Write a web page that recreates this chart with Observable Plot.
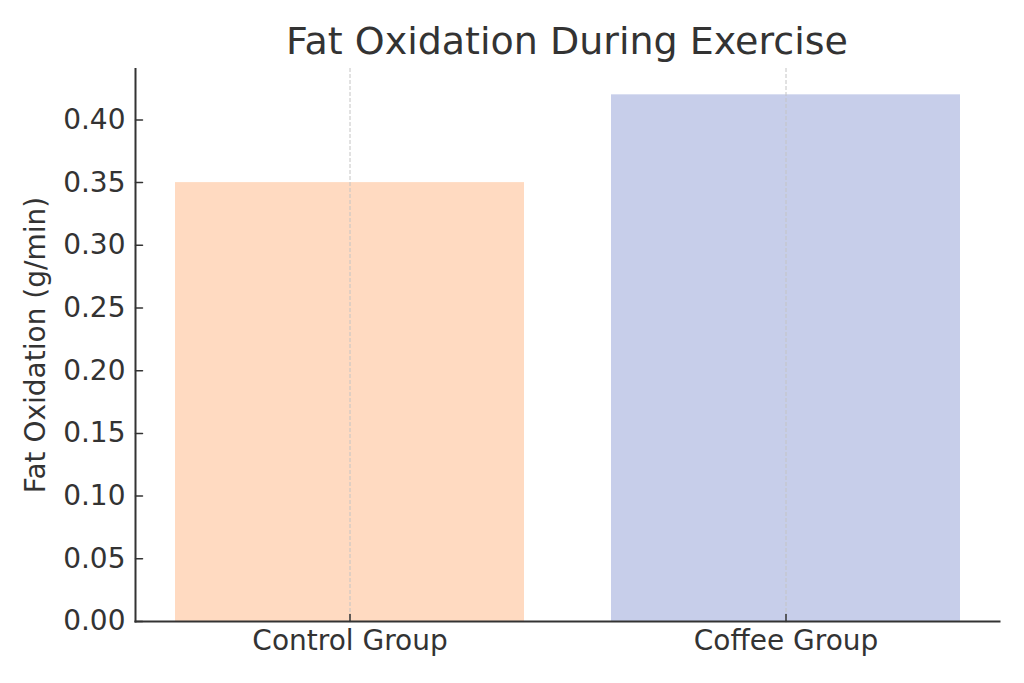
<!DOCTYPE html>
<html>
<head>
<meta charset="utf-8">
<script src="https://cdn.jsdelivr.net/npm/d3@7"></script>
<script src="https://cdn.jsdelivr.net/npm/@observablehq/plot@0.6"></script>
<style>
  body { margin: 0; background: #fff; font-family: "DejaVu Sans", sans-serif; }
  #wrap { width: 1024px; height: 683px; position: relative; }
  #title { position: absolute; left: 135px; width: 864px; top: 22px; text-align: center;
           font-size: 38px; line-height: 38px; color: #333; }
  #chart { position: absolute; left: 0; top: 68px; }
</style>
</head>
<body>
<div id="wrap">
  <div id="title">Fat Oxidation During Exercise</div>
  <div id="chart"></div>
</div>
<script>
const categories = ["Control Group", "Coffee Group"];
const fatOxidation = [0.35, 0.42];
const yTicks = [0, 0.05, 0.10, 0.15, 0.20, 0.25, 0.30, 0.35, 0.40];
const barColors = ["#FFDAC1", "#C7CEEA"];

const data = categories.map((c, i) => ({group: c, value: fatOxidation[i]}));

const lineShape = {draw(context, l) { context.moveTo(0, 0); context.lineTo(0, -l); }};

const plot = Plot.plot({
  width: 1024,
  height: 615,
  marginTop: 0,
  marginBottom: 62,
  marginLeft: 135,
  marginRight: 25,
  style: {fontFamily: "DejaVu Sans, sans-serif", fontSize: "28px", color: "#333", background: "#fff"},
  x: {domain: categories, paddingInner: 0.2, paddingOuter: 0.09},
  y: {domain: [0, 0.441]},
  color: {domain: categories, range: barColors},
  marks: [
    Plot.barY(data, {x: "group", y: "value", fill: "group"}),
    Plot.ruleX(categories, {x: d => d, stroke: "#c4c4c4", strokeWidth: 1, strokeDasharray: "4,2"}),
    Plot.axisY(yTicks, {tickSize: 0, tickPadding: 10, tickFormat: d3.format(".2f"), fontSize: 28,
      label: "Fat Oxidation (g/min)", labelAnchor: "center", labelArrow: "none", labelOffset: 110}),
    Plot.axisX({tickSize: 0, tickPadding: 9, fontSize: 28, label: null}),
    Plot.vector(yTicks, {y: d => d, frameAnchor: "left", length: 7, rotate: 90, anchor: "start", shape: lineShape, stroke: "#333", strokeWidth: 1.5}),
    Plot.vector(categories, {x: d => d, frameAnchor: "bottom", length: 7, rotate: 0, anchor: "start", shape: lineShape, stroke: "#333", strokeWidth: 1.5}),
    Plot.frame({anchor: "left", stroke: "#333", strokeWidth: 2}),
    Plot.frame({anchor: "bottom", stroke: "#333", strokeWidth: 2})
  ]
});
document.getElementById("chart").appendChild(plot);
</script>
</body>
</html>
